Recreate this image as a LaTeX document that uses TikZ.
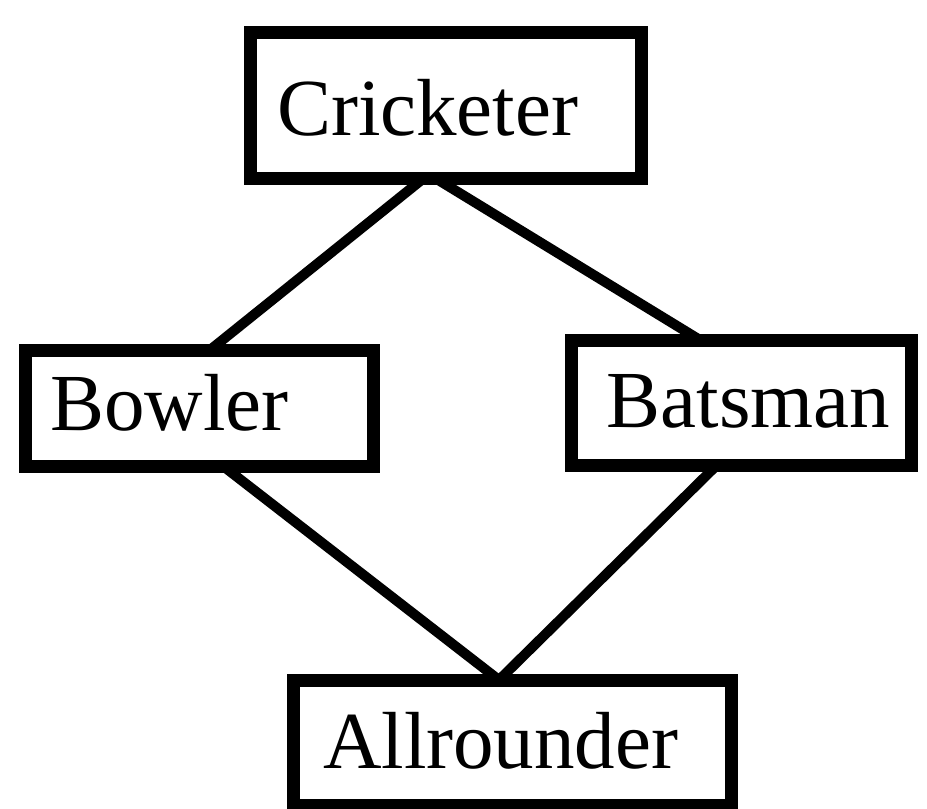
\documentclass[tikz,border=0pt]{standalone}
\usepackage{fontspec}
\setmainfont{Liberation Serif}
\begin{document}
\begin{tikzpicture}[x=1pt,y=-1pt,
  box/.style={draw, line width=13pt, inner ysep=0pt, outer sep=0pt, font=\fontsize{81}{97}\selectfont},
  link/.style={line width=10pt}]
\useasboundingbox (0,0) rectangle (927,809);
\node[box, text width=337pt, inner xsep=27pt, align=left, text height=103pt, text depth=43pt] (crick) at (445.5,105){Cricketer};
\node[box, text width=298pt, inner xsep=25pt, align=left, text height=80pt, text depth=36pt] (bowl) at (199,408){Bowler};
\node[box, text width=298pt, inner xsep=21pt, align=right, text height=87pt, text depth=38pt] (bats) at (741,402.5){Batsman};
\node[box, text width=378pt, inner xsep=30pt, align=left, text height=88pt, text depth=37pt] (allr) at (512,742.5){Allrounder};
\draw[link]([xshift=-21.5pt]crick.south) -- ([xshift=11pt]bowl.north);
\draw[link]([xshift=-10.5pt]crick.south) -- ([xshift=-41pt]bats.north);
\draw[link]([xshift=24pt]bowl.south) -- ([xshift=-13pt]allr.north);
\draw[link]([xshift=-24pt]bats.south) -- ([xshift=-13pt]allr.north);
\end{tikzpicture}
\end{document}
